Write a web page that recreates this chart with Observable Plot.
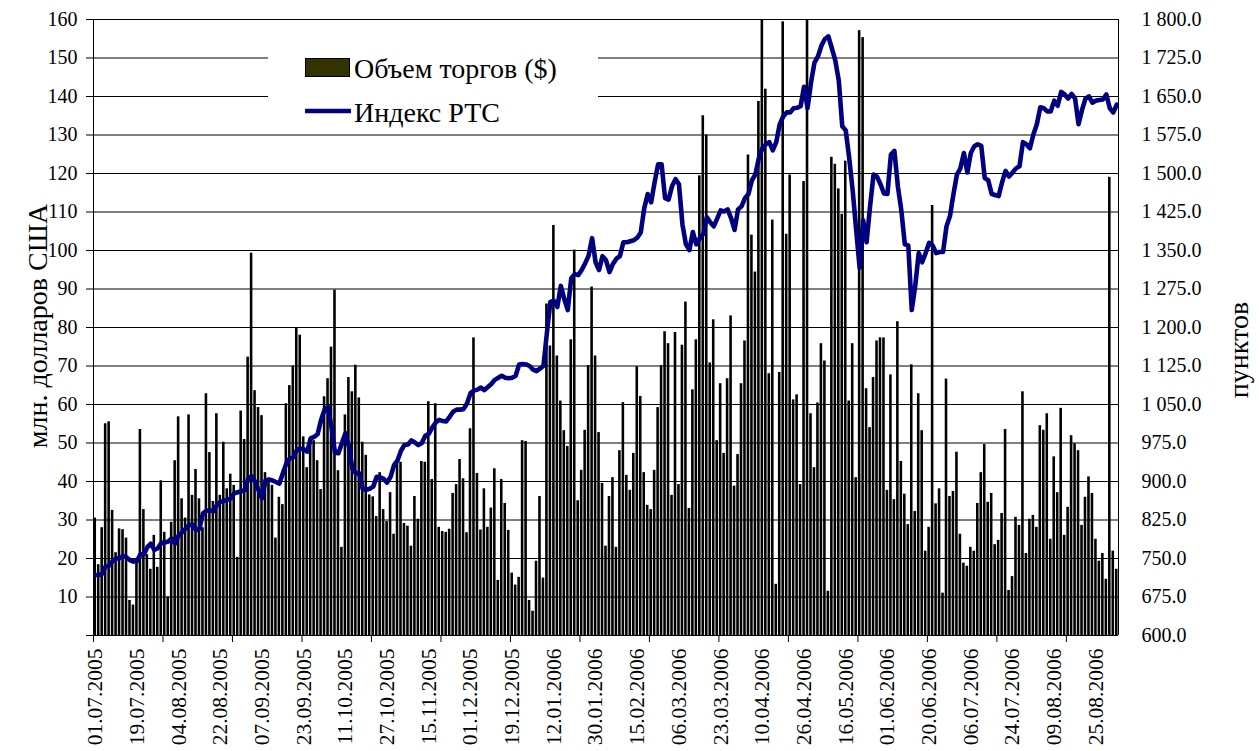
<!DOCTYPE html>
<html><head><meta charset="utf-8">
<script src="https://cdn.jsdelivr.net/npm/d3@7"></script>
<script src="https://cdn.jsdelivr.net/npm/@observablehq/plot@0.6"></script>
<style>body{margin:0;background:#fff} svg, svg text{font-family:"Liberation Serif","Times New Roman",serif !important}</style>
</head><body><div id="chart"></div>
<script>
const dateLabels = ["01.07.2005","19.07.2005","04.08.2005","22.08.2005","07.09.2005","23.09.2005","11.10.2005","27.10.2005","15.11.2005","01.12.2005","19.12.2005","12.01.2006","30.01.2006","15.02.2006","06.03.2006","23.03.2006","10.04.2006","26.04.2006","16.05.2006","01.06.2006","20.06.2006","06.07.2006","24.07.2006","09.08.2006","25.08.2006"];
const labelStep = 12;      // one date label every 12 trading days
const tickStep = 20;       // one tick mark every 20 trading days
const leftTicks = [0,10,20,30,40,50,60,70,80,90,100,110,120,130,140,150,160];
const rightTicks = [600,675,750,825,900,975,1050,1125,1200,1275,1350,1425,1500,1575,1650,1725,1800];

// Объем торгов, млн. долларов США (trading days)
const volume = [
30.5,18.4,28,55,55.5,32.5,21.5,27.7,27.5,25.3,
9.1,7.9,19,53.5,32.7,21,17.2,26,17.7,40.2,
26.8,10,29.4,45.4,56.8,35.5,30.5,57.3,36.4,43.1,
35.5,28,62.8,47.5,34.8,57.6,36.4,50.2,38.1,41.9,
39,20.3,58.3,50.9,72.3,99.3,63.6,59.2,57.1,42.3,
40.8,39,25.3,35.9,34,60.2,64.9,70,79.9,78,
51.6,43.6,50.4,50.6,45.4,37.9,62,66.7,74.9,89.7,
42.8,22.9,57.3,67,63.3,70.2,61.7,50.2,46.8,36.5,
36,30.9,42.3,32.7,29.6,37.1,26.3,44.7,45,29.1,
28.4,23.2,36.1,30.2,45.2,45,60.7,40.5,60.2,28.1,
27,26.8,27.6,36.9,39.2,45.7,40.7,26.7,53.7,77.3,
42.1,27.4,38.1,28.1,33.1,43.3,14.3,40.5,34.3,27.3,
16.2,13.1,15.1,50.6,50.4,9.1,6.3,19.3,36.1,14.9,
86.1,75.2,106.5,72.6,60.9,53.2,49.1,76.8,100.1,35,
42.9,53.3,70.1,90.5,72.6,52.7,39.5,23.2,36.1,41,
22.9,48,60.5,41.6,37.7,47.3,69.8,62.1,42.3,33.8,
32.7,42.9,59.2,70.1,78.9,75.8,36.4,78.7,39.2,75.4,
86.6,33,63.8,76.8,119.4,135,130,70.8,82,50.6,
65.4,47.3,66.7,83,38.8,47,65.4,76.5,124.8,104,
94.4,138.7,168,141.9,68,107.9,13.3,68.3,159.4,104.2,
119.6,61.2,62.5,39.2,117.9,168,57.6,43.6,60.4,75.8,
71.3,11.5,124.2,122.4,116,109.4,123.2,60.9,75.8,41,
157.1,155.3,64.1,54,67,76.5,77.3,77.3,37.7,67.7,
35.3,81.5,45.2,36.7,28.8,70.3,32.2,62.8,53.2,21.9,
28.1,111.7,34.2,38.1,11,66.6,36.1,37.4,47.6,26.3,
18.8,18,22.9,21.9,34.3,42.3,49.6,34.6,36.9,23.6,
24.7,31.7,53.5,11.7,15.3,30.7,28.6,63.3,21.3,30.2,
31.2,28.1,54.5,53.3,57.6,25,46.4,37.1,59,26,
33.3,51.9,49.8,48,28.6,35.9,41.2,36.9,25,19.3,
21.3,14.6,119,21.9,17.2
];

// Индекс РТС, пунктов
const rts = [
718,718,720,735,736,745,750,751,755,752,
747,744,745,758,758,772,779,767,770,780,
781,783,789,779,795,801,808,815,816,805,
808,838,843,844,842,854,860,862,864,867,
877,879,881,883,905,910,900,883,867,902,
904,902,899,896,916,935,945,947,961,964,
963,958,984,987,992,1020,1040,1045,1006,956,
955,975,994,968,925,916,916,885,884,886,
890,909,908,905,898,909,932,941,960,971,
972,980,976,971,975,989,993,1005,1015,1020,
1018,1017,1026,1036,1040,1040,1041,1052,1072,1077,
1079,1083,1078,1084,1090,1098,1102,1106,1102,1101,
1102,1106,1128,1129,1128,1125,1118,1115,1120,1125,
1190,1250,1252,1240,1281,1255,1234,1296,1304,1302,
1312,1325,1340,1374,1327,1312,1339,1331,1308,1324,
1334,1339,1366,1366,1368,1370,1375,1385,1432,1460,
1444,1483,1518,1518,1452,1449,1475,1489,1479,1401,
1362,1351,1386,1362,1374,1382,1415,1405,1397,1412,
1428,1426,1430,1413,1390,1430,1436,1452,1460,1487,
1498,1530,1549,1557,1561,1545,1561,1596,1611,1619,
1619,1627,1628,1631,1669,1627,1677,1716,1728,1749,
1762,1767,1744,1720,1681,1592,1584,1530,1467,1390,
1316,1409,1366,1436,1498,1494,1479,1461,1460,1537,
1544,1475,1428,1362,1360,1234,1281,1345,1327,1345,
1365,1360,1345,1347,1347,1397,1417,1460,1498,1510,
1540,1502,1540,1553,1557,1554,1491,1487,1460,1458,
1456,1483,1505,1494,1502,1510,1514,1561,1557,1549,
1576,1596,1629,1627,1621,1621,1642,1632,1659,1654,
1646,1655,1646,1596,1624,1646,1650,1638,1642,1643,
1644,1654,1627,1619,1634
];

const seriesNames = ["Объем торгов ($)", "Индекс РТС"];
const leftTitle = "млн. долларов США";
const rightTitle = "пунктов";

const FONT = '"Liberation Serif","Times New Roman",serif';
const n = volume.length;
const data = volume.map((v, i) => ({i, v, r: rts[i]}));
const toLeft = d3.scaleLinear([600, 1800], [0, 160]);
const fmtRight = v => {
  const s = String(Math.round(v));
  return (s.length > 3 ? s.slice(0, -3) + " " + s.slice(-3) : s) + ".0";
};
const labelPos = dateLabels.map((_, k) => k * labelStep + 0.5);
const tickPos = d3.range(0, n, tickStep);

const W = 1259, H = 751, ML = 93, MR = 141, MT = 19, MB = 116;
const chart = Plot.plot({
  width: W, height: H,
  marginLeft: ML, marginRight: MR, marginTop: MT, marginBottom: MB,
  style: {fontFamily: FONT, fontSize: "20px", color: "#000", background: "#fff", overflow: "visible"},
  x: {domain: [0, n], axis: null},
  y: {domain: [0, 160], axis: null},
  marks: [
    Plot.ruleY(leftTicks, {stroke: "#000", strokeWidth: 1}),
    Plot.rect(data, {x1: "i", x2: d => d.i + 1, y1: 0, y2: "v", fill: "#000", insetLeft: 0.45, insetRight: 0.45, clip: true}),
    Plot.ruleX([0, n], {stroke: "#000", strokeWidth: 1}),
    Plot.lineY(data, {x: d => d.i + 0.5, y: d => toLeft(d.r), stroke: "#000080", strokeWidth: 4.6, strokeLinejoin: "round"}),
    Plot.axisY(leftTicks, {anchor: "left", tickSize: 7, tickPadding: 9, fontSize: 20, fontFamily: FONT, label: null, tickFormat: d => d === 0 ? "" : String(d)}),
    Plot.axisY(rightTicks.map(v => toLeft(v)), {anchor: "right", tickSize: 0, tickPadding: 23, fontSize: 20, fontFamily: FONT, label: null, tickFormat: v => fmtRight(toLeft.invert(v))}),
    Plot.axisX(tickPos, {anchor: "bottom", tickSize: 7, label: null, tickFormat: () => ""}),
    Plot.axisX(labelPos, {anchor: "bottom", tickSize: 0, tickPadding: 13, tickRotate: -90, fontSize: 21.5, fontFamily: FONT, label: null, tickFormat: d => dateLabels[Math.round((d - 0.5) / labelStep)]})
  ]
});
document.getElementById("chart").appendChild(chart);

// legend and axis titles
const svg = d3.select(chart);
const lg = svg.append("g").attr("font-family", FONT).attr("text-anchor", "start");
lg.append("rect").attr("x", 268).attr("y", 26).attr("width", 330).attr("height", 100).attr("fill", "#fff");
lg.append("rect").attr("x", 305.5).attr("y", 58.5).attr("width", 44).attr("height", 18).attr("fill", "#333300").attr("stroke", "#000").attr("stroke-width", 1);
lg.append("text").attr("x", 354).attr("y", 68).attr("dy", "0.35em").attr("font-size", 28).attr("text-anchor", "start").text(seriesNames[0]);
lg.append("line").attr("x1", 305).attr("x2", 351).attr("y1", 111).attr("y2", 111).attr("stroke", "#000080").attr("stroke-width", 4.6);
lg.append("text").attr("x", 354).attr("y", 112).attr("dy", "0.35em").attr("font-size", 28).attr("text-anchor", "start").text(seriesNames[1]);
svg.append("text").attr("transform", "translate(47,326) rotate(-90)").attr("text-anchor", "middle").attr("font-family", FONT).attr("font-size", 28).text(leftTitle);
svg.append("text").attr("transform", "translate(1248,350) rotate(-90)").attr("text-anchor", "middle").attr("font-family", FONT).attr("font-size", 28).text(rightTitle);
</script></body></html>
